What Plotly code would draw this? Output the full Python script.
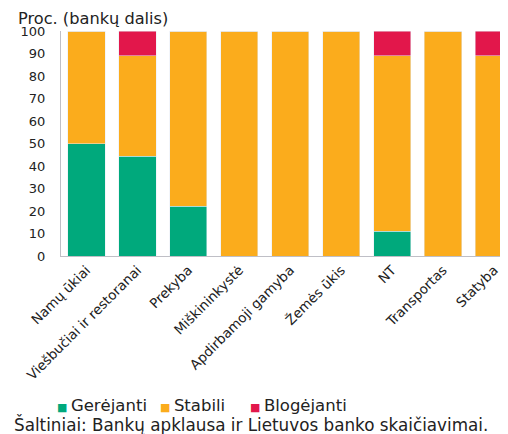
import plotly.graph_objects as go

categories = ["Namų ūkiai", "Viešbučiai ir restoranai", "Prekyba", "Miškininkystė",
              "Apdirbamoji gamyba", "Žemės ūkis", "NT", "Transportas", "Statyba"]
gerejanti = [50, 44.4, 22.2, 0, 0, 0, 11.1, 0, 0]
stabili = [50, 44.5, 77.8, 100, 100, 100, 77.8, 100, 88.9]
blogejanti = [0, 11.1, 0, 0, 0, 0, 11.1, 0, 11.1]
y_ticks = [0, 10, 20, 30, 40, 50, 60, 70, 80, 90, 100]
series_names = ["Gerėjanti", "Stabili", "Blogėjanti"]
colors = ["#00A97C", "#FBAC1C", "#E2174B"]

FONT = "DejaVu Sans"
# page has an 8px body margin, so the figure is drawn 8px smaller
W, H = 500, 426
PL, PW, PH = 61, 447, 225   # plot left (page px), plot width, plot height
PB = 256                    # plot bottom (page px)


def px(x):
    return (x - PL) / PW


def py(y):
    return (PB - y) / PH


fig = go.Figure()
for name, vals, col in zip(series_names, [gerejanti, stabili, blogejanti], colors):
    fig.add_bar(x=categories, y=vals, name=name, marker_color=col, showlegend=False)

annotations = [
    dict(text="Proc. (bankų dalis)", xref="paper", yref="paper",
         x=px(17), y=py(8), xanchor="left", yanchor="top", borderpad=0,
         showarrow=False, font=dict(size=16.2, color="#222222")),
    dict(text="Šaltiniai: Bankų apklausa ir Lietuvos banko skaičiavimai.",
         xref="paper", yref="paper", x=px(12), y=py(424),
         xanchor="left", yanchor="middle", showarrow=False,
         font=dict(size=16.8, color="#222222")),
]
item_x = [54.5, 157.5, 247.5]
for ix, name, col in zip(item_x, series_names, colors):
    annotations.append(dict(
        text=f"<span style='color:{col};font-size:11px'>■ </span>{name}",
        xref="paper", yref="paper", x=px(ix), y=py(406),
        xanchor="left", yanchor="middle", showarrow=False,
        font=dict(size=16.5, color="#222222")))

fig.update_layout(
    barmode="stack",
    bargap=0.27,
    width=W, height=H,
    margin=dict(l=PL - 8, r=0, t=31 - 8, b=H - (PB - 8), autoexpand=False),
    plot_bgcolor="white", paper_bgcolor="white",
    font=dict(family=FONT, size=13, color="#222222"),
    annotations=annotations,
)
fig.update_xaxes(
    range=[-0.5, 8.275], tickangle=-45, showline=True, linecolor="#BFBFC6",
    linewidth=1, showgrid=False, tickfont=dict(size=13.5, color="#222222"),
    ticks="", automargin=False,
)
fig.update_yaxes(
    range=[0, 100], tickvals=y_ticks, showline=True, linecolor="#BFBFC6",
    linewidth=1, showgrid=False, ticks="", ticklabelstandoff=12,
    tickfont=dict(size=13, color="#222222"), automargin=False,
)
fig.write_html("out.html")
